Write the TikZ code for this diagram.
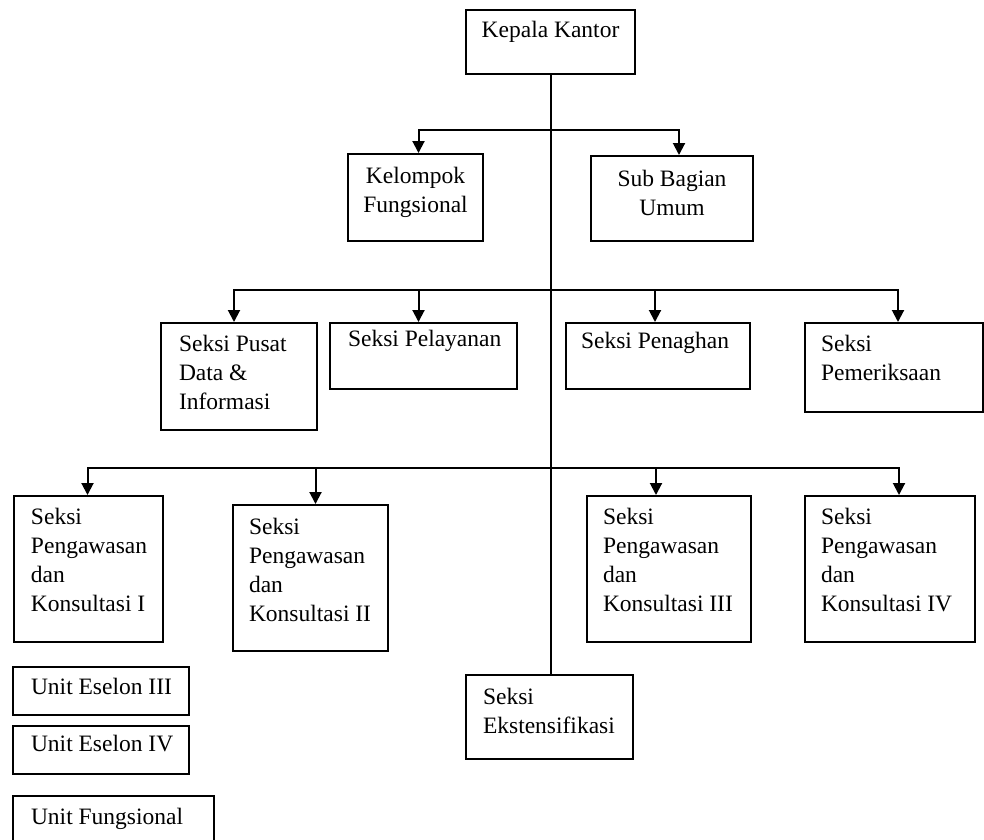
\documentclass[tikz,border=0pt]{standalone}
\usepackage{fontspec}
\setmainfont{Liberation Serif}
\usetikzlibrary{arrows.meta}

% isi kotak: lebar, tinggi, jarak kiri, garis dasar pertama, teks
\newcommand{\isi}[5]{\parbox[t][#2pt][t]{#1pt}{\raggedright\leftskip=#3pt\rule{0pt}{#4pt}#5}}
\newcommand{\isitengah}[4]{\parbox[t][#2pt][t]{#1pt}{\centering\rule{0pt}{#3pt}#4}}

\tikzset{
  kotak/.style={draw, line width=2pt, anchor=north west, inner sep=0pt,
    font=\fontsize{23.5}{29}\selectfont},
  garis/.style={line width=2pt},
  panah/.style={line width=2pt, -{Triangle[width=12pt,length=12pt]}}
}

\begin{document}
\begin{tikzpicture}[x=1pt,y=-1pt]
\clip (0,0) rectangle (984,839);
\fill[white] (0,0) rectangle (984,839);

% pimpinan
\node[kotak] (kepala) at (465,9) {\isitengah{169}{64}{27}{Kepala Kantor}};

\node[kotak] (kelompok) at (347,153) {\isitengah{135}{87}{29}{Kelompok\\Fungsional}};
\node[kotak] (subbag) at (590,155) {\isitengah{162}{85}{30}{Sub Bagian\\Umum}};

% seksi
\node[kotak] (pusat) at (160,322) {\isi{156}{107}{18}{28}{Seksi Pusat\\Data \&\\Informasi}};
\node[kotak] (pelayanan) at (329,322) {\isi{187}{66}{18}{23}{Seksi Pelayanan}};
\node[kotak] (penaghan) at (565,322) {\isi{184}{66}{15}{25}{Seksi Penaghan}};
\node[kotak] (pemeriksaan) at (804,322) {\isi{178}{89}{16}{28}{Seksi\\Pemeriksaan}};

\node[kotak] (spk1) at (13,495) {\isi{149}{146}{17}{28}{Seksi\\Pengawasan\\dan\\Konsultasi I}};
\node[kotak] (spk2) at (232,504) {\isi{155}{146}{16}{29}{Seksi\\Pengawasan\\dan\\Konsultasi II}};
\node[kotak] (spk3) at (586,495) {\isi{164}{146}{16}{28}{Seksi\\Pengawasan\\dan\\Konsultasi III}};
\node[kotak] (spk4) at (804,495) {\isi{170}{146}{16}{28}{Seksi\\Pengawasan\\dan\\Konsultasi IV}};

\node[kotak] (eks) at (465,674) {\isi{167}{84}{17}{29}{Seksi\\Ekstensifikasi}};

% keterangan
\node[kotak] (eselon3) at (12,666) {\isi{176}{48}{18}{27}{Unit Eselon III}};
\node[kotak] (eselon4) at (12,725) {\isi{176}{48}{18}{25}{Unit Eselon IV}};
\node[kotak] (ufungs) at (12,795) {\isi{201}{60}{18}{28}{Unit Fungsional}};

% garis
\coordinate (cab1) at (549,130);
\coordinate (cab2) at (549,290);
\coordinate (cab3) at (549,468);

\draw[garis] (kepala.south) -- (kepala.south |- eks.north);

\draw[panah] (cab1) -| ([xshift=3pt]kelompok.north);
\draw[panah] (cab1) -| ([xshift=7pt]subbag.north);

\draw[panah] (cab2) -| ([xshift=-5pt]pusat.north);
\draw[panah] (cab2) -| ([xshift=-5pt]pelayanan.north);
\draw[panah] (cab2) -| ([xshift=-3pt]penaghan.north);
\draw[panah] (cab2) -| ([xshift=4pt]pemeriksaan.north);

\draw[panah] (cab3) -| ([xshift=-1pt]spk1.north);
\draw[panah] (cab3) -| ([xshift=5pt]spk2.north);
\draw[panah] (cab3) -| ([xshift=-13pt]spk3.north);
\draw[panah] (cab3) -| ([xshift=9pt]spk4.north);
\end{tikzpicture}
\end{document}
